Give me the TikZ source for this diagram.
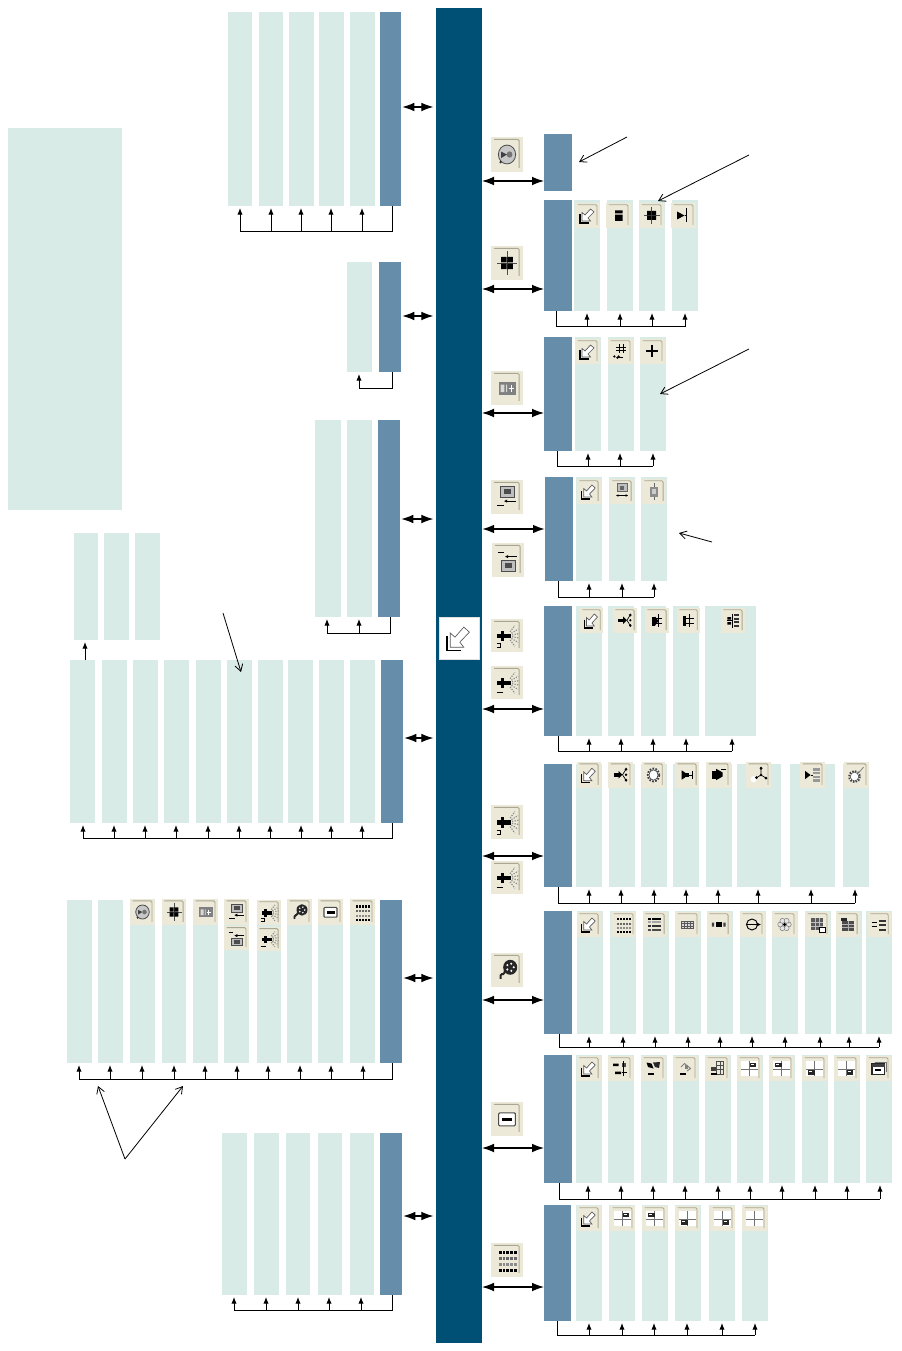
\documentclass[tikz,border=0pt]{standalone}
\usetikzlibrary{arrows.meta}
\definecolor{barcol}{HTML}{004F75}
\definecolor{darkcol}{HTML}{668DA9}
\definecolor{lightcol}{HTML}{D9EBE6}
\definecolor{iconcol}{HTML}{ECE9D8}
\definecolor{iconedge}{HTML}{A9A793}
\tikzset{
  flat/.style={inner sep=0pt,outer sep=0pt,anchor=north west},
  barbox/.style={flat,fill=barcol},
  darkbox/.style={flat,fill=darkcol},
  lightbox/.style={flat,fill=lightcol},
  iconbox/.style={flat,fill=iconcol},
  whitebox/.style={flat,fill=white,draw=black!12,line width=.3pt},
  busline/.style={draw=black,line width=.75pt},
  busarrow/.style={draw=black,line width=.75pt,-{Latex[length=5pt,width=4pt]}},
  dblarrow/.style={draw=black,line width=.8pt,{Latex[length=9pt,width=6.5pt]}-{Latex[length=9pt,width=6.5pt]}},
  dblthick/.style={dblarrow,line width=1.5pt},
  notearrow/.style={draw=black,line width=.6pt,-{Straight Barb[length=5pt,width=6pt]}},
}
% #1 name, #2 x, #3 y, #4 w, #5 h, #6 style
\newcommand\bx[6]{\node[#6,minimum width={(#4)*0.75pt},minimum height={(#5)*0.75pt}] (#1) at (#2,#3) {};}
% #1 prefix, #2 #3 dark x range, #4 #5 y range, #6 bus y, #7 dark line x, #8 list xa/xb/arrow
\newcommand\grp[8]{%
  \bx{#1d}{#2}{#4}{#3-#2}{#5-#4}{darkbox}
  \coordinate (#1b) at (#7,#6);
  \gdef\farx{#7}%
  \foreach \xa/\xb/\ar in {#8}{%
    \bx{#1\xa}{\xa}{#4}{\xb-\xa}{#5-#4}{lightbox}
    \coordinate (#1a\xa) at (\ar,#6);
    \draw[busarrow,shorten >=1.5pt] (#1a\xa) -- (#1a\xa |- #1\xa.south);
    \pgfmathparse{abs(\ar-#7)>abs(\farx-#7)?\ar:\farx}\xdef\farx{\pgfmathresult}%
  }%
  \coordinate (#1f) at (\farx,#6);
  \draw[busline,line join=miter] (#1d.south -| #1b) -- (#1b) -- (#1f);
}
% #1 name, #2 x, #3 y, #4 w, #5 h, #6 glyph
\newcommand\ico[6]{%
  \bx{#1}{#2}{#3}{#4}{#5}{iconbox}
  \begin{scope}[shift={(#2,#3)},x=#4*0.75pt,y=-#5*0.75pt]
    \draw[iconedge,line width=.7pt,rounded corners=1pt] (.1,.07) -- (.88,.07) -- (.88,.88);
    #6
  \end{scope}
}
\newcommand\gPtr{%
  \draw[black,line width=.9pt] (.2,.46) -- (.2,.8) -- (.56,.8);
  \draw[black!65,fill=white,line width=.5pt] (.28,.72) -- (.28,.38) -- (.40,.48) -- (.62,.24) -- (.76,.36) -- (.52,.60) -- (.62,.72) -- cycle;}
\newcommand\gDisk{%
  \draw[black!70,fill=black!22,line width=.6pt] (.5,.5) circle (.27);
  \fill[black!75] (.32,.42) -- (.5,.5) -- (.32,.6) -- cycle;
  \fill[black!55] (.58,.5) circle (.09);
  \fill[black!80] (.3,.72) circle (.04);}
\newcommand\gCross{%
  \draw[black!70,line width=.4pt] (.2,.5) -- (.82,.5) (.5,.16) -- (.5,.84);
  \fill (.32,.32) rectangle (.485,.485) (.515,.32) rectangle (.68,.485) (.32,.515) rectangle (.485,.68) (.515,.515) rectangle (.68,.68);}
\newcommand\gBars{\fill (.36,.3) rectangle (.66,.42) (.36,.47) rectangle (.66,.72);}
\newcommand\gTee{\fill (.24,.34) -- (.54,.5) -- (.24,.66) -- cycle;
  \draw[line width=.7pt] (.54,.5) -- (.62,.5) (.62,.22) -- (.62,.78);}
\newcommand\gPanel{\fill[black!50] (.24,.32) rectangle (.78,.7);
  \fill[white!85!black] (.3,.4) rectangle (.42,.62) (.47,.4) rectangle (.5,.62);
  \draw[white,line width=.6pt] (.55,.52) -- (.72,.52) (.63,.42) -- (.63,.62);}
\newcommand\gHashV{\draw[line width=.7pt] (.44,.22) -- (.44,.56) (.6,.22) -- (.6,.56) (.32,.33) -- (.72,.33) (.32,.46) -- (.72,.46);
  \fill (.25,.7) circle (.05) (.42,.7) circle (.05);
  \draw[line width=.5pt,{Latex[length=2pt,width=2pt]}-] (.3,.75) -- (.6,.75);}
\newcommand\gPlus{\draw[line width=1.5pt] (.24,.48) -- (.72,.48) (.48,.24) -- (.48,.72);}
\newcommand\gScrA{\draw[black!70,fill=black!25,line width=.5pt] (.28,.2) rectangle (.74,.5);
  \fill[black!70] (.4,.27) rectangle (.62,.42);
  \draw[line width=.7pt,-{Latex[length=2.5pt,width=2.5pt]}] (.78,.62) -- (.4,.62);
  \draw[line width=.5pt] (.2,.75) -- (.42,.75);}
\newcommand\gScrB{\draw[black!70,fill=black!25,line width=.5pt] (.28,.52) rectangle (.74,.82);
  \fill[black!70] (.4,.6) rectangle (.62,.74);
  \draw[line width=.7pt,-{Latex[length=2.5pt,width=2.5pt]}] (.78,.4) -- (.4,.4);
  \draw[line width=.5pt] (.2,.26) -- (.36,.26);}
\newcommand\gScrD{\draw[black!60,fill=black!25,line width=.4pt] (.3,.18) rectangle (.7,.5);
  \fill[black!60] (.42,.26) rectangle (.58,.42);
  \draw[line width=.6pt,{Latex[length=2pt,width=2pt]}-{Latex[length=2pt,width=2pt]}] (.24,.66) -- (.76,.66);}
\newcommand\gBoxV{\fill[black!45] (.32,.3) rectangle (.68,.7);
  \fill[black!20] (.4,.4) rectangle (.6,.6);
  \draw[black!60,line width=.6pt] (.5,.16) -- (.5,.3) (.5,.7) -- (.5,.84);}
\newcommand\gFanBase{%
  \fill (.3,.36) rectangle (.4,.68);
  \fill (.2,.44) rectangle (.62,.58);
  \foreach \a in {-52,-30,-10,10,30,52}{\draw[black!45,line width=.9pt,densely dotted] (.5,.51) ++(\a:.16) -- ++(\a:.24);}}
\newcommand\gFanT{\gFanBase \draw[line width=.6pt] (.18,.74) -- (.32,.74) (.18,.86) -- (.32,.86) (.3,.74) -- (.3,.86);}
\newcommand\gFanU{\gFanBase \draw[line width=.7pt] (.18,.8) -- (.36,.8);}
\newcommand\gReel{\fill[black!85] (.6,.42) circle (.22);
  \foreach \q in {0,72,144,216,288}{\fill[white] (.6,.42) ++(\q:.11) circle (.035);}
  \draw[black!85,line width=1.4pt,rounded corners=1pt] (.42,.52) -- (.42,.62) -- (.3,.62) -- (.3,.76);}
\newcommand\gMinus{\draw[black!70,fill=white,line width=.8pt,rounded corners=.7pt] (.24,.32) rectangle (.76,.7);
  \fill (.34,.47) rectangle (.66,.56);}
\newcommand\gGridA{\foreach \r/\s in {.24/black,.42/black!60,.6/black!45,.76/black}{\foreach \q in {.24,.36,.48,.6,.72}{\fill[\s] (\q,\r) rectangle (\q+.09,\r+.09);}}}
\newcommand\gGridB{\foreach \r/\s in {.24/black,.36/black!35,.52/black!80,.66/black!70}{\foreach \q in {.22,.36,.5,.64}{\fill[\s] (\q,\r) rectangle (\q+.12,\r+.09);}}}
\newcommand\gGridC{\draw[black!65,fill=black!15,line width=.5pt] (.24,.36) rectangle (.74,.66);
  \draw[black!65,line width=.4pt] (.24,.46) -- (.74,.46) (.24,.56) -- (.74,.56) (.36,.36) -- (.36,.66) (.49,.36) -- (.49,.66) (.62,.36) -- (.62,.66);}
\newcommand\gBarK{\fill[black!75] (.2,.42) rectangle (.3,.58) (.68,.42) rectangle (.78,.58);
  \fill (.36,.4) rectangle (.62,.6);}
\newcommand\gCircA{\draw[line width=.7pt] (.48,.5) circle (.22);
  \draw[line width=.8pt,-{Latex[length=3pt,width=3pt]}] (.22,.5) -- (.84,.5);}
\newcommand\gFlower{\foreach \q in {0,60,120,180,240,300}{\draw[black!55,fill=black!10,line width=.35pt] (.5,.5) ++(\q:.17) circle (.1);}
  \fill (.5,.5) circle (.07);}
\newcommand\gTabA{\fill[black!65] (.24,.24) rectangle (.72,.72);
  \draw[black!25,line width=.3pt] (.24,.4) -- (.72,.4) (.24,.56) -- (.72,.56) (.4,.24) -- (.4,.72) (.56,.24) -- (.56,.72);
  \draw[fill=white,line width=.4pt] (.56,.62) rectangle (.8,.8);}
\newcommand\gTabB{\fill[black!70] (.26,.34) rectangle (.74,.74);
  \fill[black!85] (.2,.24) rectangle (.44,.36);
  \draw[black!30,line width=.3pt] (.26,.5) -- (.74,.5) (.26,.62) -- (.74,.62) (.5,.36) -- (.5,.74);}
\newcommand\gLines{\foreach \r in {.3,.48,.66}{\fill[black!80] (.46,\r) rectangle (.78,\r+.08);}
  \draw[line width=.7pt] (.16,.4) -- (.4,.4) (.16,.58) -- (.4,.58);}
\newcommand\gSplit{\fill (.22,.42) rectangle (.46,.56);
  \fill (.42,.34) -- (.58,.49) -- (.42,.64) -- cycle;
  \draw[line width=.5pt] (.58,.49) -- (.72,.28) (.58,.49) -- (.72,.7);
  \fill (.72,.28) circle (.06) (.72,.7) circle (.06) (.72,.49) circle (.05);}
\newcommand\gHashA{\fill (.28,.34) rectangle (.42,.7);
  \draw[line width=.7pt] (.56,.24) -- (.56,.76) (.42,.42) -- (.72,.42) (.42,.6) -- (.72,.6);
  \fill (.42,.34) -- (.56,.52) -- (.42,.7) -- cycle;}
\newcommand\gHashB{\fill (.28,.3) rectangle (.4,.72);
  \draw[line width=.7pt] (.56,.24) -- (.56,.76) (.4,.42) -- (.74,.42) (.4,.6) -- (.74,.6);}
\newcommand\gHashC{\fill (.26,.36) rectangle (.42,.46) (.26,.56) rectangle (.42,.66);
  \draw[line width=.8pt] (.48,.22) -- (.48,.78) (.26,.5) -- (.48,.5);
  \foreach \r in {.24,.38,.52,.66}{\fill[black!80] (.56,\r) rectangle (.74,\r+.08);}}
\newcommand\gGear{\draw[black!75,fill=white,line width=1.3pt,densely dotted] (.5,.5) circle (.25);
  \draw[black!70,fill=white,line width=.6pt] (.5,.5) circle (.2);}
\newcommand\gTri{\fill (.28,.32) -- (.56,.5) -- (.28,.68) -- cycle;
  \fill (.44,.42) rectangle (.58,.58);
  \draw[line width=.7pt] (.58,.5) -- (.72,.5) (.72,.36) -- (.72,.64);}
\newcommand\gTriF{\fill (.22,.34) rectangle (.46,.66);
  \fill (.4,.26) -- (.66,.4) -- (.66,.56) -- (.4,.7) -- cycle;
  \draw[line width=.7pt] (.6,.3) -- (.78,.3);}
\newcommand\gBranch{\fill[white] (.3,.66) circle (.12);
  \draw[line width=.5pt] (.42,.6) -- (.6,.5) -- (.6,.24) (.6,.5) -- (.8,.62);
  \fill (.6,.24) circle (.06) (.42,.6) circle (.06) (.8,.62) circle (.06) (.6,.5) circle (.05);}
\newcommand\gTriG{\fill (.2,.34) -- (.42,.5) -- (.2,.66) -- cycle;
  \draw[line width=.5pt] (.42,.5) -- (.5,.5);
  \foreach \r in {.24,.38,.52,.66}{\fill[black!40] (.5,\r) rectangle (.78,\r+.09);}}
\newcommand\gGearP{\draw[black!75,fill=white,line width=1.2pt,densely dotted] (.42,.56) circle (.22);
  \draw[black!70,fill=white,line width=.5pt] (.42,.56) circle (.17);
  \draw[black!50,line width=.6pt] (.58,.42) -- (.78,.2);}
\newcommand\gE{\fill (.2,.3) rectangle (.42,.4) (.28,.62) rectangle (.52,.72);
  \fill[black!70] (.54,.28) rectangle (.72,.44);
  \draw[line width=.5pt] (.62,.2) -- (.62,.8) (.54,.66) -- (.76,.66);}
\newcommand\gF{\fill (.22,.26) -- (.42,.3) -- (.5,.5) -- (.28,.44) -- cycle;
  \fill[black!85] (.48,.26) -- (.76,.24) -- (.72,.48) -- (.56,.44) -- cycle;
  \fill (.28,.68) rectangle (.52,.76);}
\newcommand\gG{\draw[black!50,line width=.7pt] (.32,.44) -- (.46,.3) -- (.7,.5) -- (.56,.6);
  \fill[black!50] (.46,.34) rectangle (.58,.5);
  \fill (.26,.68) rectangle (.52,.76);}
\newcommand\gH{\draw[black!70,line width=.5pt] (.44,.22) rectangle (.74,.72) (.44,.38) -- (.74,.38) (.44,.54) -- (.74,.54) (.6,.22) -- (.6,.72);
  \fill[black!75] (.24,.44) rectangle (.44,.58);
  \fill (.24,.68) rectangle (.46,.76);}
% cross with a little flag at (#1,#2)
\newcommand\gCrs[2]{\fill[white] (.16,.2) rectangle (.82,.8);
  \draw[black!55,line width=.5pt] (.16,.52) -- (.82,.52) (.5,.2) -- (.5,.8);
  \fill[black!85] (#1,#2) rectangle ++(.26,.18);
  \fill[white] (#1+.05,#2+.04) rectangle ++(.12,.04);}
\newcommand\gCrsN{\fill[white] (.16,.2) rectangle (.82,.8);
  \draw[black!55,line width=.5pt] (.16,.52) -- (.82,.52) (.5,.2) -- (.5,.8);}
\newcommand\gWin{\draw[black!85,fill=white,line width=.8pt] (.24,.32) rectangle (.74,.74);
  \fill[black!75] (.24,.32) rectangle (.74,.42);
  \fill (.34,.5) rectangle (.6,.58);
  \draw[black!55,line width=.6pt] (.34,.24) -- (.8,.24) -- (.8,.62);}
\begin{document}
\begin{tikzpicture}[x=0.75pt,y=-0.75pt]
\useasboundingbox (0,0) rectangle (901,1351);
\fill[white] (0,0) rectangle (901,1351);
% central bar and free boxes
\bx{bar}{436}{8}{46}{1335}{barbox}
\bx{sideblock}{8}{128}{114}{382}{lightbox}
% left groups
\grp{A}{380}{401}{12}{206}{232}{392}{228/252/240,259/283/271,289/314/301,319/344/331,350/375/362}
\grp{B}{379}{401}{262}{372}{388}{392}{347/372/359}
\grp{C}{378}{400}{420}{617}{633}{390}{315/341/327,347/372/359}
\foreach \xa/\xb in {74/98,104/129,135/160}{\bx{D\xa}{\xa}{533}{\xb-\xa}{107}{lightbox}}
\grp{E}{381}{403}{660}{823}{838}{392}{70/95/83,102/127/114,133/158/145,164/189/176,196/221/208,227/252/239,258/283/270,288/313/301,319/344/331,350/375/362}
\coordinate (Dup) at (85,660);
\draw[busarrow,shorten >=1.5pt] (Dup) -- (Dup |- D74.south);
\grp{F}{380}{402}{900}{1063}{1079}{392}{67/92/79,98/123/110,130/155/142,162/186/174,193/218/205,224/249/237,257/281/268,287/312/300,318/343/331,350/375/363}
\grp{G}{380}{402}{1133}{1295}{1310}{392}{222/247/234,254/279/266,286/310/298,318/342/329,350/374/361}
% right groups
\bx{R1d}{544}{134}{28}{57}{darkbox}
\grp{R2}{544}{572}{200}{311}{327}{556}{574/600/587,607/633/620,639/665/652,672/698/685}
\grp{R3}{544}{572}{337}{451}{466}{557}{575/601/588,608/634/620,640/666/653}
\grp{R4}{545}{573}{477}{581}{597}{558}{576/602/589,609/635/622,641/667/654}
\grp{R5}{544}{572}{606}{736}{751}{558}{576/602/589,608/634/621,641/666/653,673/699/686,705/756/732}
\grp{R6}{544}{572}{764}{887}{903}{558}{576/602/589,609/635/621,641/667/654,673/699/686,706/732/718,737/781/758,790/835/811,843/869/855}
\grp{R7}{544}{572}{911}{1034}{1047}{559}{577/603/589,610/636/623,643/669/655,675/701/688,707/733/720,740/766/752,772/798/785,805/831/820,836/862/849,866/892/879}
\grp{R8}{544}{572}{1055}{1183}{1199}{559}{576/602/588,608/634/621,641/667/653,673/699/685,705/731/718,737/763/750,769/795/782,802/828/815,834/860/847,866/892/880}
\grp{R9}{544}{571}{1205}{1321}{1335}{557}{576/602/589,609/635/622,642/668/654,675/701/687,709/735/722,742/768/755}
% double arrows, left of bar
\foreach \n/\y in {A/107,B/316,C/519,E/738,F/978,G/1216}{
  \coordinate (dbl\n) at (0,\y);
  \draw[dblarrow,shorten <=1pt,shorten >=2pt] (\n d.east |- dbl\n) -- (bar.west |- dbl\n);
}
% double arrows, right of bar
\foreach \n/\y in {R1/181,R2/289,R3/413,R5/709,R6/856,R7/1000,R8/1148,R9/1287}{
  \coordinate (dbl\n) at (0,\y);
  \draw[dblarrow] (bar.east |- dbl\n) -- (\n d.west |- dbl\n);
}
\coordinate (dblR4) at (0,529);
\draw[dblthick] (bar.east |- dblR4) -- (R4d.west |- dblR4);
% note arrows
\coordinate (n1a) at (627,137); \coordinate (n1b) at (579,162);
\draw[notearrow] (n1a) -- (n1b);
\coordinate (n2a) at (749,155); \coordinate (n2b) at (658,201);
\draw[notearrow] (n2a) -- (n2b);
\coordinate (n3a) at (749,349); \coordinate (n3b) at (660,394);
\draw[notearrow] (n3a) -- (n3b);
\coordinate (n4a) at (712,542); \coordinate (n4b) at (679,533);
\draw[notearrow] (n4a) -- (n4b);
\coordinate (n5a) at (223,613); \coordinate (n5b) at (241,672);
\draw[notearrow] (n5a) -- (n5b);
\coordinate (n6a) at (125,1159); \coordinate (n6b) at (98,1086); \coordinate (n6c) at (183,1086);
\draw[notearrow] (n6a) -- (n6b);
\draw[notearrow] (n6a) -- (n6c);
% centre icon
\bx{cen}{439}{617}{40}{42}{whitebox}
\begin{scope}[shift={(439,617)},x=40*0.75pt,y=-42*0.75pt]\gPtr\end{scope}
% icons beside the bar
\ico{i1}{491}{137}{32}{35}{\gDisk}
\ico{i2}{491}{246}{32}{34}{\gCross}
\ico{i3}{491}{371}{32}{34}{\gPanel}
\ico{i4}{491}{480}{32}{34}{\gScrA}
\ico{i5}{492}{543}{32}{34}{\gScrB}
\ico{i6}{491}{619}{32}{33}{\gFanT}
\ico{i7}{491}{666}{32}{33}{\gFanU}
\ico{i8}{491}{805}{32}{34}{\gFanT}
\ico{i9}{491}{861}{32}{33}{\gFanU}
\ico{i10}{491}{953}{32}{34}{\gReel}
\ico{i11}{491}{1102}{32}{34}{\gMinus}
\ico{i12}{491}{1243}{32}{34}{\gGridA}
% icons of the left group F
\ico{fa}{130}{899}{25}{26}{\gDisk}
\ico{fb}{162}{899}{24}{26}{\gCross}
\ico{fc}{193}{899}{25}{26}{\gPanel}
\ico{fd}{224}{899}{25}{26}{\gScrA}
\ico{fe}{224}{926}{25}{24}{\gScrB}
\ico{ff}{257}{900}{24}{25}{\gFanT}
\ico{fg}{257}{927}{24}{24}{\gFanU}
\ico{fh}{287}{899}{25}{26}{\gReel}
\ico{fi}{318}{899}{25}{26}{\gMinus}
\ico{fj}{350}{899}{25}{26}{\gGridA}
% icons of the right groups
\ico{r2a}{575}{203}{25}{25}{\gPtr}
\ico{r2b}{606}{203}{25}{25}{\gBars}
\ico{r2c}{639}{203}{25}{25}{\gCross}
\ico{r2d}{671}{203}{25}{25}{\gTee}
\ico{r3a}{575}{339}{25}{25}{\gPtr}
\ico{r3b}{608}{339}{25}{25}{\gHashV}
\ico{r3c}{640}{339}{25}{25}{\gPlus}
\ico{r4a}{577}{479}{24}{25}{\gPtr}
\ico{r4b}{610}{479}{24}{25}{\gScrD}
\ico{r4c}{642}{479}{24}{25}{\gBoxV}
\ico{r5a}{580}{608}{23}{25}{\gPtr}
\ico{r5b}{613}{608}{24}{25}{\gSplit}
\ico{r5c}{645}{608}{24}{25}{\gHashA}
\ico{r5d}{677}{608}{23}{25}{\gHashB}
\ico{r5e}{721}{608}{24}{25}{\gHashC}
\ico{r6a}{577}{762}{24}{26}{\gPtr}
\ico{r6b}{608}{762}{25}{26}{\gSplit}
\ico{r6c}{642}{762}{23}{26}{\gGear}
\ico{r6d}{675}{762}{24}{26}{\gTri}
\ico{r6e}{706}{762}{25}{26}{\gTriF}
\ico{r6f}{746}{762}{25}{26}{\gBranch}
\ico{r6g}{800}{762}{25}{26}{\gTriG}
\ico{r6h}{844}{762}{25}{26}{\gGearP}
\ico{r7a}{577}{912}{24}{25}{\gPtr}
\ico{r7b}{611}{912}{25}{25}{\gGridA}
\ico{r7c}{643}{912}{24}{25}{\gGridB}
\ico{r7d}{675}{912}{25}{25}{\gGridC}
\ico{r7e}{707}{912}{24}{25}{\gBarK}
\ico{r7f}{740}{912}{25}{25}{\gCircA}
\ico{r7g}{772}{912}{25}{25}{\gFlower}
\ico{r7h}{805}{912}{25}{25}{\gTabA}
\ico{r7i}{836}{912}{24}{25}{\gTabB}
\ico{r7j}{868}{912}{23}{25}{\gLines}
\ico{r8a}{577}{1056}{24}{25}{\gPtr}
\ico{r8b}{608}{1056}{25}{25}{\gE}
\ico{r8c}{641}{1056}{25}{25}{\gF}
\ico{r8d}{673}{1056}{25}{25}{\gG}
\ico{r8e}{705}{1056}{25}{25}{\gH}
\ico{r8f}{737}{1056}{25}{25}{\gCrs{.5}{.26}}
\ico{r8g}{769}{1056}{25}{25}{\gCrs{.24}{.26}}
\ico{r8h}{802}{1056}{25}{25}{\gCrs{.24}{.56}}
\ico{r8i}{834}{1056}{25}{25}{\gCrs{.5}{.56}}
\ico{r8j}{866}{1056}{25}{25}{\gWin}
\ico{r9a}{577}{1206}{24}{25}{\gPtr}
\ico{r9b}{610}{1206}{25}{25}{\gCrs{.5}{.26}}
\ico{r9c}{642}{1206}{25}{25}{\gCrs{.24}{.26}}
\ico{r9d}{675}{1206}{25}{25}{\gCrs{.24}{.56}}
\ico{r9e}{710}{1206}{25}{25}{\gCrs{.5}{.56}}
\ico{r9f}{742}{1206}{25}{25}{\gCrsN}
\end{tikzpicture}
\end{document}
